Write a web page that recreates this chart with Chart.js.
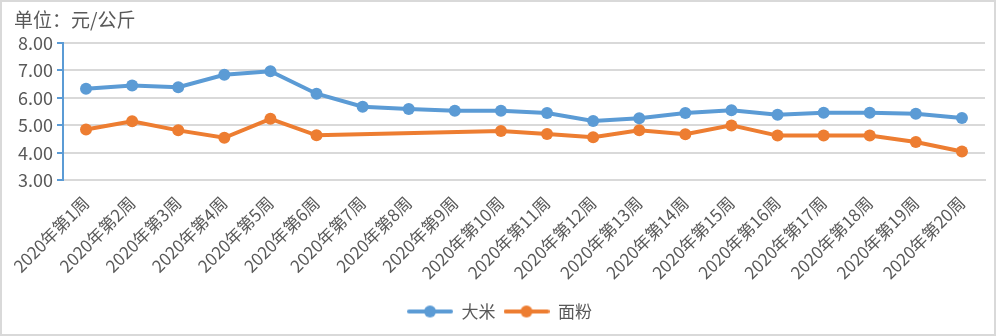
<!DOCTYPE html>
<html>
<head>
<meta charset="utf-8">
<script src="https://cdn.jsdelivr.net/npm/chart.js@4"></script>
<style>
  html, body { margin: 0; padding: 0; background: #fff; }
  #wrap {
    position: absolute; left: 0; top: 0;
    width: 996px; height: 336px;
    box-sizing: border-box;
    border: 2px solid #d9d9d9;
    background: #fff;
  }
</style>
</head>
<body>
<div id="wrap"><canvas id="price-chart"></canvas></div>
<script>
  // Weekly retail prices, yuan per kg
  const WEEKS = [
    '2020年第1周', '2020年第2周', '2020年第3周', '2020年第4周', '2020年第5周',
    '2020年第6周', '2020年第7周', '2020年第8周', '2020年第9周', '2020年第10周',
    '2020年第11周', '2020年第12周', '2020年第13周', '2020年第14周', '2020年第15周',
    '2020年第16周', '2020年第17周', '2020年第18周', '2020年第19周', '2020年第20周'
  ];
  const RICE = [6.33, 6.45, 6.39, 6.84, 6.97, 6.15, 5.68, 5.60, 5.53, 5.53,
                5.45, 5.16, 5.26, 5.45, 5.55, 5.39, 5.46, 5.46, 5.42, 5.27];
  // weeks 7-9 have no flour quote; the line spans across them
  const FLOUR = [4.85, 5.15, 4.82, 4.55, 5.24, 4.64, null, null, null, 4.80,
                 4.69, 4.57, 4.82, 4.68, 5.00, 4.63, 4.63, 4.63, 4.40, 4.05];
  const Y_TICKS = [3, 4, 5, 6, 7, 8];

  const BLUE = '#5b9bd5';
  const ORANGE = '#ed7d31';
  const TEXT = '#595959';
  const GRID = '#d9d9d9';
  const FONT = '"Noto Sans CJK SC", "Microsoft YaHei", sans-serif';

  // legend swatch: short line with a dot in the middle
  function lineMarker(color) {
    const c = document.createElement('canvas');
    c.width = 46; c.height = 14;
    const g = c.getContext('2d');
    g.strokeStyle = color;
    g.lineWidth = 4;
    g.lineCap = 'round';
    g.beginPath(); g.moveTo(2, 7); g.lineTo(44, 7); g.stroke();
    g.fillStyle = color;
    g.beginPath(); g.arc(23, 7, 6, 0, Math.PI * 2); g.fill();
    return c;
  }
  const markers = [lineMarker(BLUE), lineMarker(ORANGE)];

  function series(label, data, color) {
    return {
      label: label,
      data: data,
      borderColor: color,
      backgroundColor: color,
      borderWidth: 4,
      pointRadius: 6,
      pointHoverRadius: 6,
      pointBorderWidth: 0,
      pointStyle: 'circle',
      spanGaps: true,
      tension: 0
    };
  }

  new Chart(document.getElementById('price-chart'), {
    type: 'line',
    data: {
      labels: WEEKS,
      datasets: [series('大米', RICE, BLUE), series('面粉', FLOUR, ORANGE)]
    },
    options: {
      responsive: true,
      maintainAspectRatio: false,
      animation: false,
      layout: { padding: { left: 12, right: 9, top: 6, bottom: 4 } },
      plugins: {
        title: {
          display: true,
          text: '单位：元/公斤',
          align: 'start',
          color: TEXT,
          font: { family: FONT, size: 19, weight: 'normal' },
          padding: { top: 0, bottom: 12 }
        },
        legend: {
          position: 'bottom',
          labels: {
            color: TEXT,
            font: { family: FONT, size: 17 },
            usePointStyle: true,
            pointStyleWidth: 46,
            padding: 8,
            generateLabels: function (chart) {
              const items = Chart.defaults.plugins.legend.labels.generateLabels(chart);
              items.forEach(function (it, i) { it.pointStyle = markers[i]; });
              return items;
            }
          }
        },
        tooltip: { enabled: false }
      },
      scales: {
        x: {
          offset: true,
          grid: { display: false, drawTicks: false },
          border: { display: true, color: GRID, width: 2 },
          ticks: {
            color: TEXT,
            font: { family: FONT, size: 17 },
            minRotation: 45,
            maxRotation: 45,
            autoSkip: false,
            padding: 12
          }
        },
        y: {
          min: Y_TICKS[0],
          max: Y_TICKS[Y_TICKS.length - 1],
          afterBuildTicks: function (axis) {
            axis.ticks = Y_TICKS.map(function (v) { return { value: v }; });
          },
          grid: {
            color: GRID,
            lineWidth: 2,
            tickLength: 6,
            tickColor: BLUE
          },
          border: { color: BLUE, width: 2 },
          ticks: {
            color: TEXT,
            font: { family: FONT, size: 18 },
            padding: 4,
            callback: function (v) { return Number(v).toFixed(2); }
          }
        }
      }
    }
  });
</script>
</body>
</html>
